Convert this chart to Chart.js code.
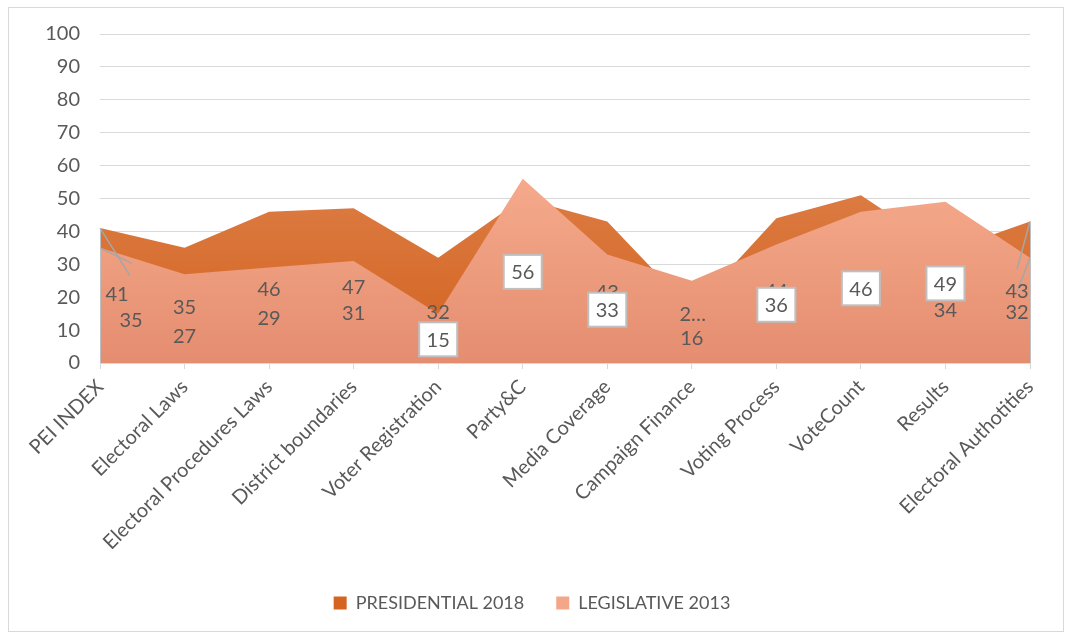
<!DOCTYPE html>
<html>
<head>
<meta charset="utf-8">
<script src="https://cdn.jsdelivr.net/npm/chart.js@4.4.1/dist/chart.umd.min.js"></script>
<style>
  html, body { margin: 0; padding: 0; background: #ffffff; }
  #wrap { position: relative; width: 1073px; height: 635px; }
  canvas { display: block; }
</style>
</head>
<body>
<div id="wrap"><canvas id="c" width="1073" height="635"></canvas></div>
<script>
// ---- data ----
const categories = ['PEI INDEX', 'Electoral Laws', 'Electoral Procedures Laws', 'District boundaries',
  'Voter Registration', 'Party&C', 'Media Coverage', 'Campaign Finance', 'Voting Process',
  'VoteCount', 'Results', 'Electoral Authotities'];
const presidential2018 = [41, 35, 46, 47, 32, 50, 43, 16, 44, 51, 34, 43];
const legislative2013 = [35, 27, 29, 31, 15, 56, 33, 25, 36, 46, 49, 32];
const presidentialLabels = ['41', '35', '46', '47', '32', '50', '43', '16', '44', '51', '34', '43'];
const legislativeLabels = ['35', '27', '29', '31', '15', '56', '33', '2…', '36', '46', '49', '32'];
const seriesNames = ['PRESIDENTIAL 2018', 'LEGISLATIVE 2013'];
const yTickMin = 0, yTickMax = 100, yTickStep = 10;

const FONT = 'Lato, "Open Sans", sans-serif';
const TEXT = '#595959';

function grad(ctx, top, bottom, c1, c2) {
  const chart = ctx.chart;
  const a = chart.chartArea;
  if (!a) return c1;
  const y1 = chart.scales.y.getPixelForValue(top);
  const y2 = chart.scales.y.getPixelForValue(bottom);
  const g = chart.ctx.createLinearGradient(0, y1, 0, y2);
  g.addColorStop(0, c1);
  g.addColorStop(1, c2);
  return g;
}

const labelPlugin = {
  id: 'valueLabels',
  afterDatasetsDraw(chart, args, opts) {
    const c = chart.ctx;
    const xs = chart.scales.x, ys = chart.scales.y;
    c.save();
    c.font = opts.font;
    c.textAlign = 'center';
    c.textBaseline = 'middle';
    // leader lines
    c.strokeStyle = '#a6a6a6';
    c.lineWidth = 1.5;
    opts.leaders.forEach(l => {
      const vals = l.ds === 0 ? presidential2018 : legislative2013;
      const sh = (l.ds === 0 ? opts.presShift : opts.legShift)[l.i];
      const px = xs.getPixelForValue(l.i), py = ys.getPixelForValue(vals[l.i]);
      const lx = px + sh[0] + l.to[0];
      const ly = ys.getPixelForValue(vals[l.i] / 2) + sh[1] + l.to[1];
      c.beginPath(); c.moveTo(px, py); c.lineTo(lx, ly); c.stroke();
    });
    // edge lines of the plotted area
    c.strokeStyle = '#bfbfbf'; c.lineWidth = 1;
    [0, categories.length - 1].forEach(i => {
      const x = Math.round(xs.getPixelForValue(i)) + 0.5;
      c.beginPath();
      c.moveTo(x, ys.getPixelForValue(Math.max(presidential2018[i], legislative2013[i])));
      c.lineTo(x, ys.getPixelForValue(0));
      c.stroke();
    });
    const drawSet = (vals, texts, shifts, boxed) => {
      vals.forEach((v, i) => {
        const x = xs.getPixelForValue(i) + shifts[i][0];
        const y = ys.getPixelForValue(v / 2) + shifts[i][1];
        if (boxed.includes(i)) {
          c.fillStyle = '#ffffff';
          c.strokeStyle = '#bfbfbf';
          c.lineWidth = 2;
          c.fillRect(x - 19, y - 17, 38, 34);
          c.strokeRect(x - 19, y - 17, 38, 34);
        }
        c.fillStyle = TEXT;
        c.fillText(texts[i], x, y + 1);
      });
    };
    drawSet(presidential2018, presidentialLabels, opts.presShift, []);
    drawSet(legislative2013, legislativeLabels, opts.legShift, opts.legBoxed);
    c.restore();
  }
};

const framePlugin = {
  id: 'frame',
  beforeDraw(chart) {
    const c = chart.ctx;
    c.save();
    c.fillStyle = '#ffffff';
    c.fillRect(0, 0, chart.width, chart.height);
    c.strokeStyle = '#d9d9d9';
    c.lineWidth = 1;
    c.strokeRect(8.5, 7.5, 1055, 624);
    c.restore();
  }
};

new Chart(document.getElementById('c'), {
  type: 'line',
  data: {
    labels: categories,
    datasets: [
      {
        label: seriesNames[0],
        data: presidential2018,
        order: 1,
        fill: 'origin',
        borderWidth: 0,
        borderColor: 'rgba(0,0,0,0)',
        pointRadius: 0,
        tension: 0,
        backgroundColor: ctx => grad(ctx, 52, 0, '#dc7b43', '#d3621d')
      },
      {
        label: seriesNames[1],
        data: legislative2013,
        order: 0,
        fill: 'origin',
        borderWidth: 0,
        borderColor: 'rgba(0,0,0,0)',
        pointRadius: 0,
        tension: 0,
        backgroundColor: ctx => grad(ctx, 56, 0, '#f5aa8b', '#e58d70')
      }
    ]
  },
  options: {
    responsive: false,
    animation: false,
    events: [],
    layout: { padding: { left: 0, right: 9, top: 34, bottom: 13 } },
    plugins: {
      tooltip: { enabled: false },
      legend: {
        position: 'bottom',
        labels: {
          font: { family: FONT, size: 18 },
          color: TEXT,
          boxWidth: 13,
          boxHeight: 13,
          padding: 32,
          sort: (a, b) => a.datasetIndex - b.datasetIndex,
          generateLabels: () => [
            { text: seriesNames[0], fillStyle: '#d4641f', strokeStyle: '#d4641f', lineWidth: 0, datasetIndex: 0, fontColor: TEXT },
            { text: seriesNames[1], fillStyle: '#f3a688', strokeStyle: '#f3a688', lineWidth: 0, datasetIndex: 1, fontColor: TEXT }
          ]
        }
      },
      valueLabels: {
        font: '20px ' + FONT,
        presShift: [[17, -2], [0, 1], [0, 1], [0, 1], [0, 1], [0, 0], [0, -1], [0, 1], [0, 0], [0, 0], [0, 2], [-13, -2]],
        legShift: [[31, 14], [0, 17], [0, 2], [0, 1], [0, 1], [0, 1], [0, 1], [1, -8], [0, 1], [0, 1], [0, 1], [-13, 1]],
        legBoxed: [4, 5, 6, 8, 9, 10],
        leaders: [
          { ds: 0, i: 0, to: [13, -18] },
          { ds: 1, i: 0, to: [1, -56] },
          { ds: 0, i: 11, to: [0, -21] },
          { ds: 1, i: 11, to: [0, -19] }
        ]
      }
    },
    scales: {
      x: {
        offset: false,
        afterFit: s => { s.height = 199; },
        grid: { drawOnChartArea: false, drawTicks: true, tickLength: 6, color: '#d9d9d9' },
        border: { display: true, color: '#d9d9d9', width: 1 },
        ticks: {
          autoSkip: false,
          maxRotation: 45,
          minRotation: 45,
          padding: 6,
          color: TEXT,
          font: { family: FONT, size: 20 }
        }
      },
      y: {
        min: yTickMin,
        max: yTickMax,
        afterFit: s => { s.width = 100; },
        grid: { color: '#d9d9d9', drawTicks: false, lineWidth: 1 },
        border: { display: false },
        ticks: {
          stepSize: yTickStep,
          padding: 20,
          color: TEXT,
          font: { family: FONT, size: 20 }
        }
      },
      yRight: {
        position: 'right',
        min: yTickMin,
        max: yTickMax,
        afterFit: s => { s.width = 34; },
        grid: { display: false },
        border: { display: false },
        ticks: { display: false }
      }
    }
  },
  plugins: [framePlugin, labelPlugin]
});
</script>
</body>
</html>
